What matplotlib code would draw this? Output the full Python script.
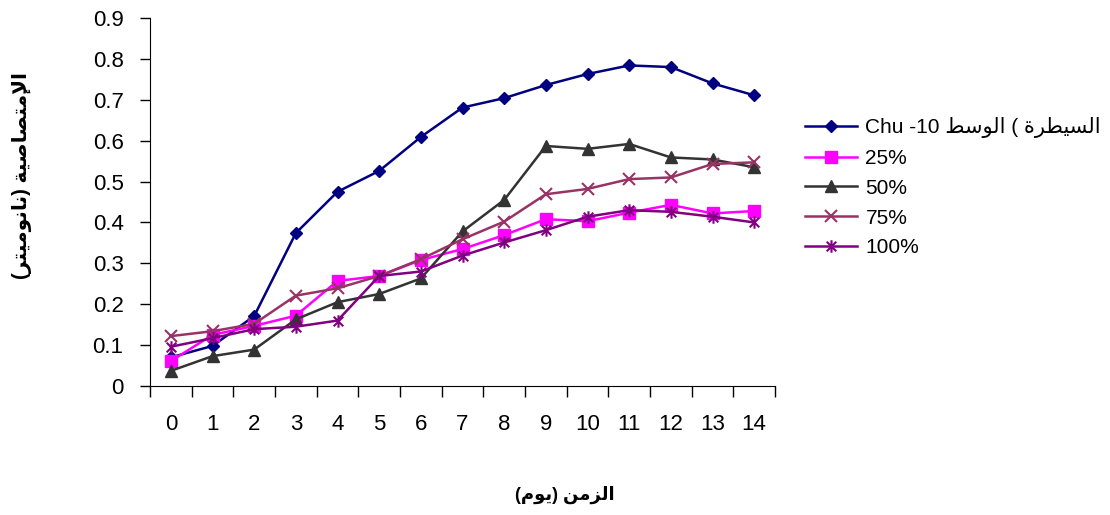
import numpy as np
import matplotlib
matplotlib.use("Agg")
import matplotlib.pyplot as plt
from matplotlib.path import Path

plt.rcParams['font.family'] = ['Liberation Sans', 'DejaVu Sans']

days = list(range(15))
control = [0.070, 0.098, 0.171, 0.374, 0.475, 0.526, 0.609, 0.681, 0.704, 0.736, 0.763, 0.784, 0.780, 0.740, 0.711]
p25 = [0.061, 0.125, 0.147, 0.172, 0.257, 0.269, 0.308, 0.335, 0.369, 0.408, 0.403, 0.424, 0.443, 0.422, 0.428]
p50 = [0.037, 0.073, 0.089, 0.163, 0.205, 0.225, 0.263, 0.378, 0.455, 0.587, 0.580, 0.592, 0.559, 0.554, 0.535]
p75 = [0.122, 0.134, 0.152, 0.221, 0.239, 0.269, 0.310, 0.359, 0.402, 0.469, 0.482, 0.506, 0.510, 0.543, 0.547]
p100 = [0.096, 0.117, 0.139, 0.145, 0.160, 0.269, 0.280, 0.319, 0.351, 0.381, 0.414, 0.430, 0.426, 0.414, 0.400]
yticks = [0, 0.1, 0.2, 0.3, 0.4, 0.5, 0.6, 0.7, 0.8, 0.9]


# minimal arabic shaping: pick contextual forms, then reverse for LTR drawing
DUAL = {'ل': 0xFEDD, 'م': 0xFEE1, 'ت': 0xFE95, 'ص': 0xFEB9, 'ي': 0xFEF1,
        'ن': 0xFEE5, 'س': 0xFEB1, 'ط': 0xFEC1}
RIGHT = {'ا': 0xFE8D, 'إ': 0xFE87, 'ة': 0xFE93, 'و': 0xFEED, 'ر': 0xFEAD, 'ز': 0xFEAF}
LAMALEF = {'ا': 0xFEFB, 'إ': 0xFEF9}


def shape(s):
    chars = list(s)
    out = []
    i = 0
    while i < len(chars):
        c = chars[i]
        prev = chars[i - 1] if i > 0 else ''
        joins_prev = prev in DUAL
        nxt = chars[i + 1] if i + 1 < len(chars) else ''
        if c == 'ل' and nxt in LAMALEF:
            out.append(chr(LAMALEF[nxt] + (1 if joins_prev else 0)))
            i += 2
            continue
        if c in DUAL:
            joins_next = nxt in DUAL or nxt in RIGHT
            form = (1 if joins_prev else 0) + (2 if joins_next else 0)
            out.append(chr(DUAL[c] + form))
        elif c in RIGHT:
            out.append(chr(RIGHT[c] + (1 if joins_prev else 0)))
        else:
            out.append(c)
        i += 1
    mirror = {'(': ')', ')': '('}
    return ''.join(mirror.get(c, c) for c in reversed(out))


star = Path([(-1, -1), (1, 1), (-1, 1), (1, -1), (0, -1.3), (0, 1.3)],
            [Path.MOVETO, Path.LINETO, Path.MOVETO, Path.LINETO, Path.MOVETO, Path.LINETO])

fig = plt.figure(figsize=(11.1, 5.15), dpi=100)
ax = fig.add_axes([150 / 1110, 1 - 386 / 515, 625 / 1110, 368 / 515])

label0 = 'Chu -10 ' + shape('الوسط') + ' ( ' + shape('السيطرة')
ax.plot(days, control, color='#000080', marker='D', markersize=6, lw=1.8, label=label0)
ax.plot(days, p25, color='#FF00FF', marker='s', markersize=9, lw=1.8, label='25%')
ax.plot(days, p50, color='#333333', marker='^', markersize=9, lw=1.8, label='50%')
ax.plot(days, p75, color='#993366', marker='x', markersize=9, mew=1.5, lw=1.8, label='75%')
ax.plot(days, p100, color='#800080', marker=star, markersize=9, mew=1.5, lw=1.8, label='100%')

ax.set_xlim(-0.5, 14.5)
ax.set_ylim(0, 0.9)
ax.set_xticks(days)
ax.set_xticklabels([str(d) for d in days])
ax.set_xticks(np.arange(-0.5, 15, 1), minor=True)
ax.tick_params(axis='x', which='major', length=0, pad=20, labelsize=16)
ax.tick_params(axis='x', which='minor', length=8, width=1)
ax.set_yticks(yticks)
ax.set_yticklabels(['0'] + ['%.1f' % v for v in yticks[1:]])
ax.tick_params(axis='y', length=7, width=1, pad=12, labelsize=16)
ax.spines['top'].set_visible(False)
ax.spines['right'].set_visible(False)

fig.text(565 / 1110, 1 - 495 / 515, shape('الزمن (يوم)'), ha='center', va='center',
         fontsize=13, fontweight='bold')
fig.text(22 / 1110, 1 - 175 / 515, shape('الإمتصاصية (نانوميتر)'), ha='center', va='center',
         rotation=90, fontsize=14.5, fontweight='bold')

fig.legend(loc='upper left', bbox_to_anchor=(805 / 1110, 1 - 117 / 515), frameon=False,
           fontsize=15, handlelength=2.5, labelspacing=0.52, handletextpad=0.4,
           borderpad=0, borderaxespad=0)

fig.savefig('out.png', dpi=100)
